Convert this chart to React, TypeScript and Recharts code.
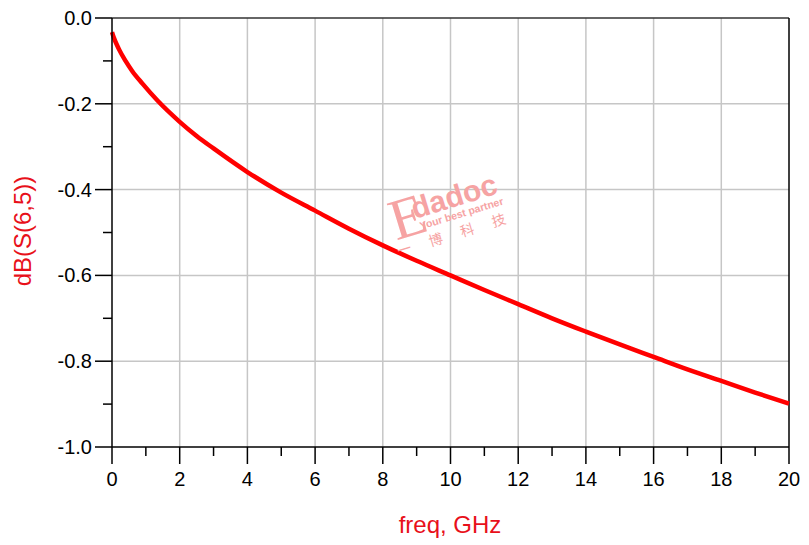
import React from 'react';
import {
  LineChart,
  Line,
  XAxis,
  YAxis,
  CartesianGrid,
  ReferenceLine,
} from 'recharts';

// freq (GHz) and dB(S(6,5))
const freqGHz = [0, 0.05, 0.2, 0.4, 0.6, 0.9, 1.35, 2, 2.5, 3, 4, 5, 6, 7, 8, 9, 10, 11, 12, 13, 14, 15, 16, 17, 18, 19, 20];
const dbS65 = [
  -0.033, -0.045, -0.072, -0.1, -0.124, -0.153, -0.193, -0.242, -0.275, -0.304, -0.359, -0.407,
  -0.449, -0.491, -0.53, -0.566, -0.6, -0.634, -0.667, -0.7, -0.731, -0.761, -0.79, -0.819,
  -0.846, -0.873, -0.899,
];

const xTicks = [0, 1, 2, 3, 4, 5, 6, 7, 8, 9, 10, 11, 12, 13, 14, 15, 16, 17, 18, 19, 20];
const yTicks = [-1, -0.9, -0.8, -0.7, -0.6, -0.5, -0.4, -0.3, -0.2, -0.1, 0];
const xGrid = [2, 4, 6, 8, 10, 12, 14, 16, 18];
const yGrid = [-0.2, -0.4, -0.6, -0.8];

const data = freqGHz.map((f, i) => ({ freq: f, db: dbS65[i] }));

const FONT = '"Liberation Sans", Arial, sans-serif';
const RED = '#e8101a';
const PINK = '#f6a3a3';

const XTick = ({ x, y, payload }: any) => {
  const v = payload.value;
  const major = v % 2 === 0;
  return (
    <g>
      <line x1={x} y1={y} x2={x} y2={y + (major ? 17 : 9)} stroke="#000" strokeWidth={1.5} />
      {major && (
        <text x={x} y={y + 39} textAnchor="middle" fontSize={20} fontFamily={FONT} fill="#000">
          {v}
        </text>
      )}
    </g>
  );
};

const YTick = ({ x, y, payload }: any) => {
  const v = payload.value;
  const major = Math.round(v * 10) % 2 === 0;
  return (
    <g>
      <line x1={x - (major ? 17 : 9)} y1={y} x2={x} y2={y} stroke="#000" strokeWidth={1.5} />
      {major && (
        <text x={x - 20} y={y} textAnchor="end" dominantBaseline="central" fontSize={20} fontFamily={FONT} fill="#000">
          {v.toFixed(1)}
        </text>
      )}
    </g>
  );
};

export default function App() {
  return (
    <div style={{ position: 'absolute', left: 0, top: 0, width: 809, height: 545, background: '#fff' }}>
      <LineChart width={809} height={545} data={data} margin={{ top: 18, right: 20, bottom: 0, left: 0 }}>
        <CartesianGrid
          stroke="#c6c6c6"
          strokeWidth={1.5}
          verticalValues={xGrid}
          horizontalValues={yGrid}
        />
        <XAxis
          dataKey="freq"
          type="number"
          domain={[0, 20]}
          ticks={xTicks}
          interval={0}
          height={98}
          tickSize={0}
          tickMargin={0}
          tickLine={false}
          tick={<XTick />}
          axisLine={{ stroke: '#000', strokeWidth: 1.5 }}
          label={{
            content: () => (
              <text x={450} y={533} textAnchor="middle" fontSize={24} fontFamily={FONT} fill={RED}>
                freq, GHz
              </text>
            ),
          }}
        />
        <YAxis
          type="number"
          domain={[-1, 0]}
          ticks={yTicks}
          interval={0}
          width={112}
          tickSize={0}
          tickMargin={0}
          tickLine={false}
          tick={<YTick />}
          axisLine={{ stroke: '#000', strokeWidth: 1.5 }}
          label={{
            content: () => (
              <text
                x={22}
                y={231}
                transform="rotate(-90 22 231)"
                textAnchor="middle"
                dominantBaseline="central"
                fontSize={24}
                fontFamily={FONT}
                fill={RED}
              >
                dB(S(6,5))
              </text>
            ),
          }}
        />
        <ReferenceLine y={0} stroke="#333" strokeWidth={1.5} />
        <ReferenceLine x={20} stroke="#000" strokeWidth={1.5} />
        <Line
          type="monotone"
          dataKey="db"
          stroke="#ff0000"
          strokeWidth={4.5}
          dot={false}
          isAnimationActive={false}
        />
      </LineChart>
      {/* watermark */}
      <svg
        width={809}
        height={545}
        style={{ position: 'absolute', left: 0, top: 0, pointerEvents: 'none' }}
      >
        <g transform="rotate(-17 450 225)" fill={PINK}>
          <text x={394} y={224} fontSize={58} fontFamily='"Liberation Serif", serif'>E</text>
          <text x={418} y={209} fontSize={30} fontWeight="bold" fontFamily={FONT}>dadoc</text>
          <text x={421} y={221} fontSize={10.5} fontWeight="bold" fontFamily={FONT}>Your best partner</text>
          {['一', '博', '科', '技'].map((c, i) => (
            <text
              key={c}
              x={399 + i * 33}
              y={234}
              textAnchor="middle"
              dominantBaseline="central"
              fontSize={14}
              fontFamily='"Noto Sans CJK SC", sans-serif'
            >
              {c}
            </text>
          ))}
        </g>
      </svg>
    </div>
  );
}
